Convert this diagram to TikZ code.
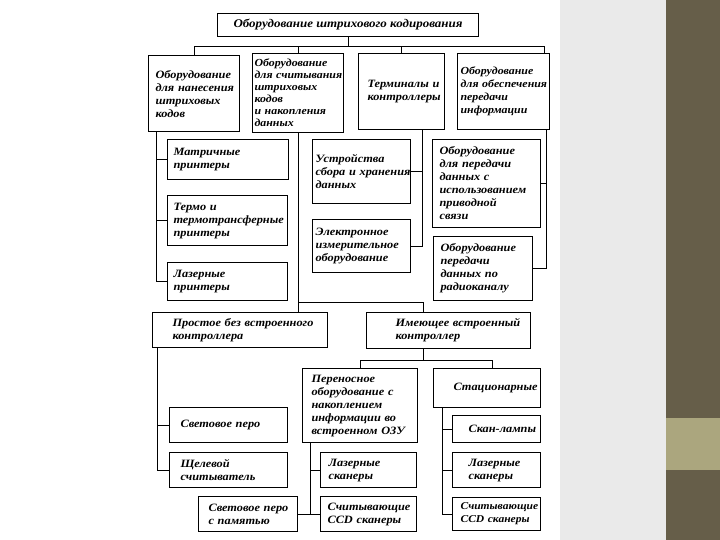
\documentclass[tikz,border=0pt]{standalone}
\usepackage{fontspec}
\setmainfont{Liberation Serif}[FakeStretch=1.1]
\usetikzlibrary{calc}

\definecolor{sidegray}{RGB}{234,234,234}
\definecolor{sidegraymid}{RGB}{244,244,244}
\definecolor{olivedark}{RGB}{102,94,73}
\definecolor{olivelight}{RGB}{171,166,126}

\tikzset{
  blk/.style n args={3}{draw, line width=1.1pt, anchor=north west,
    minimum width=#1, minimum height=#2, inner ysep=0pt, inner xsep=0pt,
    text width=#1,
    execute at begin node={\raggedright\leftskip=#3pt\rightskip=-30pt plus 1fil\relax},
    font=\bfseries\itshape\fontsize{11.2}{13}\selectfont},
  wire/.style={line width=0.8pt}
}

\begin{document}
\begin{tikzpicture}[x=1pt,y=-1pt]

    \useasboundingbox (0,0) rectangle (720,540);
    \fill[white] (0,0) rectangle (720,540);
    \shade[left color=sidegray, middle color=sidegraymid, right color=sidegray] (560,0) rectangle (666,540);
    \fill[olivedark] (666,0) rectangle (720,540);
    \fill[olivelight] (666,418) rectangle (720,470);

    % top level
    \node[draw, line width=1.1pt, anchor=north west, minimum width=261, minimum height=23,
      inner sep=0pt, font=\bfseries\itshape\fontsize{11.8}{13}\selectfont] (title) at (217,13)
      {Оборудование штрихового кодирования};

    \node[blk={91}{76}{7}] (A) at (148,55) {Оборудование\\для нанесения\\штриховых\\кодов};
    \node[blk={91}{79}{2}, font=\bfseries\itshape\fontsize{10.8}{12}\selectfont] (B) at (252,53)
      {Оборудование\\для считывания\\штриховых\\кодов\\и накопления\\данных};
    \node[blk={86}{76}{9}] (C) at (358,53) {Терминалы и\\контроллеры};
    \node[blk={92}{76}{3}, font=\bfseries\itshape\fontsize{10.8}{13}\selectfont] (D) at (457,53)
      {Оборудование\\для обеспечения\\передачи\\информации};

    % second level
    \node[blk={121}{40}{6}] (A1) at (167,139) {Матричные\\принтеры};
    \node[blk={120}{50}{6}] (A2) at (167,195) {Термо и\\термотрансферные\\принтеры};
    \node[blk={120}{38}{6}] (A3) at (167,262) {Лазерные\\принтеры};

    \node[blk={98}{64}{3}] (C1) at (312,139) {Устройства\\сбора и хранения\\данных};
    \node[blk={98}{53}{3}] (C2) at (312,219) {Электронное\\измерительное\\оборудование};

    \node[blk={108}{88}{7}] (D1) at (432,139) {Оборудование\\для передачи\\данных с\\использованием\\приводной\\связи};
    \node[blk={99}{64}{7}] (D2) at (433,236) {Оборудование\\передачи\\данных по\\радиоканалу};

    % readers
    \node[blk={175}{35}{20}] (F) at (152,312) {Простое без встроенного\\контроллера};
    \node[blk={164}{36}{29}] (G) at (366,312) {Имеющее встроенный\\контроллер};

    \node[blk={118}{35}{11}] (F1) at (169,407) {Световое перо};
    \node[blk={118}{35}{11}] (F2) at (169,452) {Щелевой\\считыватель};

    \node[blk={115}{74}{9}] (H) at (302,368) {Переносное\\оборудование с\\накоплением\\информации во\\встроенном ОЗУ};
    \node[blk={107}{39}{20}] (K) at (433,368) {Стационарные};

    \node[blk={96}{35}{8}] (H1) at (320,452) {Лазерные\\сканеры};
    \node[blk={96}{35}{7}] (H2) at (320,496) {Считывающие\\CCD сканеры};
    \node[blk={99}{35}{10}] (H3) at (198,496) {Световое перо\\с памятью};

    \node[blk={88}{27}{16}] (K1) at (452,415) {\mbox{Скан-лампы}};
    \node[blk={88}{35}{16}] (K2) at (452,452) {Лазерные\\сканеры};
    \node[blk={88}{33}{8}, font=\bfseries\itshape\fontsize{10.5}{13}\selectfont] (K3) at (452,497)
      {Считывающие\\CCD сканеры};

    % connectors
    \coordinate (bus) at (352,46);
    \coordinate (lvl) at (0,302);
    \coordinate (lvl2) at (0,360);
    \coordinate (kt) at ([xshift=5]K.north);

    \draw[wire] (title.south) -- (title.south |- bus);
    \draw[wire] (A.north) |- ([xshift=-6]D.north east |- bus) -- ([xshift=-6]D.north east);
    \draw[wire] (B.north) -- (B.north |- bus);
    \draw[wire] (C.north) -- (C.north |- bus);

    \draw[wire] ([xshift=8]A.south west) |- (A1.west);
    \draw[wire] ([xshift=8]A.south west) |- (A2.west);
    \draw[wire] ([xshift=8]A.south west) |- (A3.west);

    \draw[wire] ([xshift=21]C.south) |- (C1.east);
    \draw[wire] ([xshift=21]C.south) |- (C2.east);

    \coordinate (dl) at ([xshift=-4]D.south east);
    \draw[wire] (dl) |- (D2.east);
    \draw[wire] (D1.east) -- (D1.east -| dl);

    \draw[wire] (B.south) -- (B.south |- F.north);
    \draw[wire] (B.south |- lvl) -| ([xshift=-25]G.north);

    \draw[wire] ([xshift=5]F.south west) |- (F1.west);
    \draw[wire] ([xshift=5]F.south west) |- (F2.west);

    \draw[wire] ([xshift=-25]G.south) -- ([xshift=-25]G.south |- lvl2);
    \draw[wire] (H.north) |- (lvl2 -| kt) -- (kt);

    \coordinate (hl) at ([xshift=8]H.south west);
    \draw[wire] (hl) |- (H1.west);
    \draw[wire] (hl) |- (H2.west);
    \draw[wire] (H3.east) -- (H3.east -| hl);

    \coordinate (kl) at ([xshift=9]K.south west);
    \draw[wire] (kl) |- (K1.west);
    \draw[wire] (kl) |- (K2.west);
    \draw[wire] (kl) |- (K3.west);

\end{tikzpicture}
\end{document}
